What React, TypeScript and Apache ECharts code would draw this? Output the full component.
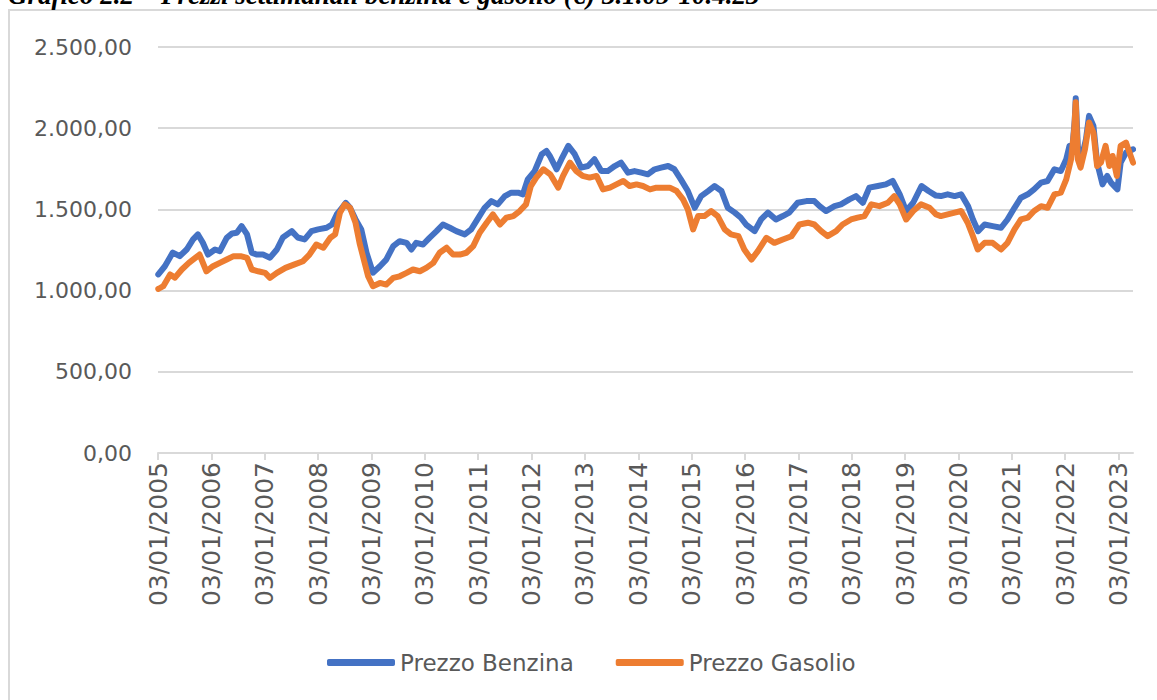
import React, { useEffect, useRef } from "react";
import * as echarts from "echarts";

const TITLE = "Grafico 2.2 – Prezzi settimanali benzina e gasolio (€) 3.1.05-10.4.23";
const SERIES_NAMES = ["Prezzo Benzina", "Prezzo Gasolio"];
const X_TICK_YEARS = [2005, 2006, 2007, 2008, 2009, 2010, 2011, 2012, 2013, 2014, 2015, 2016, 2017, 2018, 2019, 2020, 2021, 2022, 2023];
const X_TICK_LABELS = [
  "03/01/2005", "03/01/2006", "03/01/2007", "03/01/2008", "03/01/2009", "03/01/2010", "03/01/2011",
  "03/01/2012", "03/01/2013", "03/01/2014", "03/01/2015", "03/01/2016", "03/01/2017", "03/01/2018",
  "03/01/2019", "03/01/2020", "03/01/2021", "03/01/2022", "03/01/2023",
];
const Y_TICKS = [0, 500, 1000, 1500, 2000, 2500];
const Y_TICK_LABELS = ["0,00", "500,00", "1.000,00", "1.500,00", "2.000,00", "2.500,00"];

const benzinaDates = [
  "2005-01-03", "2005-02-17", "2005-04-12", "2005-05-30", "2005-07-16", "2005-08-29", "2005-10-01", "2005-11-03", "2005-12-09",
  "2006-01-26", "2006-02-28", "2006-04-16", "2006-05-23", "2006-06-24", "2006-07-27", "2006-09-02", "2006-10-04", "2006-11-06", "2006-12-20",
  "2007-02-06", "2007-03-25", "2007-05-05", "2007-07-05", "2007-08-15", "2007-10-01", "2007-11-17",
  "2008-01-01", "2008-02-28", "2008-04-05", "2008-05-08", "2008-06-13", "2008-07-09", "2008-08-07", "2008-09-13", "2008-10-23", "2008-11-28",
  "2009-01-11", "2009-02-28", "2009-04-12", "2009-05-30", "2009-07-13", "2009-08-29", "2009-10-01", "2009-11-03", "2009-12-20",
  "2010-02-02", "2010-03-22", "2010-05-05", "2010-06-21", "2010-08-04", "2010-10-01", "2010-11-14",
  "2011-01-03", "2011-02-14", "2011-04-01", "2011-05-15", "2011-07-02", "2011-08-15", "2011-10-01", "2011-11-03", "2011-12-06",
  "2012-01-22", "2012-03-11", "2012-04-12", "2012-05-05", "2012-06-21", "2012-07-24", "2012-09-09", "2012-10-23", "2012-12-06",
  "2013-01-22", "2013-03-07", "2013-04-23", "2013-06-06", "2013-07-24", "2013-09-05", "2013-10-23", "2013-12-06",
  "2014-01-22", "2014-03-07", "2014-04-23", "2014-06-06", "2014-07-24", "2014-09-05", "2014-10-19", "2014-12-06",
  "2015-01-22", "2015-03-07", "2015-04-23", "2015-06-06", "2015-07-24", "2015-09-05", "2015-10-23", "2015-12-02",
  "2016-01-08", "2016-03-07", "2016-04-20", "2016-06-06", "2016-07-31", "2016-09-16", "2016-10-30", "2016-12-27",
  "2017-02-25", "2017-04-20", "2017-05-26", "2017-07-09", "2017-09-05", "2017-10-19", "2017-12-16",
  "2018-01-30", "2018-03-18", "2018-05-01", "2018-06-28", "2018-08-22", "2018-10-08", "2018-11-25",
  "2019-01-08", "2019-02-25", "2019-04-23", "2019-06-10", "2019-07-31", "2019-09-02", "2019-10-19", "2019-12-06",
  "2020-01-19", "2020-03-07", "2020-04-09", "2020-05-15", "2020-06-28", "2020-08-22", "2020-10-19", "2020-12-02",
  "2021-01-19", "2021-03-04", "2021-04-20", "2021-06-02", "2021-07-20", "2021-09-02", "2021-10-19", "2021-12-02",
  "2022-01-08", "2022-01-30", "2022-02-21", "2022-03-07", "2022-03-14", "2022-03-28", "2022-04-16", "2022-05-23", "2022-06-13",
  "2022-07-13", "2022-08-07", "2022-09-13", "2022-10-15", "2022-11-10", "2022-12-24",
  "2023-01-15", "2023-02-21", "2023-04-10",
];
const benzinaValues = [
  1100, 1150, 1234, 1212, 1253, 1315, 1346, 1296, 1222,
  1253, 1243, 1325, 1352, 1356, 1397, 1346, 1234, 1222, 1222,
  1203, 1253, 1327, 1366, 1327, 1315, 1366,
  1377, 1387, 1407, 1469, 1510, 1540, 1510, 1440, 1377, 1233,
  1110, 1150, 1191, 1274, 1304, 1294, 1253, 1294, 1284,
  1325, 1366, 1407, 1387, 1366, 1346, 1377,
  1449, 1510, 1551, 1531, 1582, 1603, 1603, 1593, 1685,
  1736, 1840, 1860, 1829, 1747, 1809, 1891, 1840, 1757,
  1767, 1809, 1736, 1736, 1767, 1788, 1726, 1736,
  1726, 1716, 1747, 1757, 1767, 1747, 1685, 1613,
  1510, 1582, 1613, 1644, 1613, 1510, 1480, 1450,
  1407, 1366, 1438, 1480, 1438, 1459, 1480, 1541,
  1551, 1551, 1520, 1490, 1520, 1531, 1562,
  1582, 1541, 1634, 1644, 1654, 1675, 1593,
  1490, 1541, 1644, 1613, 1585, 1582, 1593, 1582,
  1593, 1520, 1438, 1366, 1407, 1397, 1387, 1438,
  1510, 1572, 1593, 1623, 1665, 1675, 1747, 1736,
  1809, 1891, 1900, 2050, 2185, 1891, 1788, 1932, 2076,
  2014, 1788, 1654, 1706, 1665, 1623,
  1788, 1850, 1870,
];

const gasolioDates = [
  "2005-01-03", "2005-01-15", "2005-02-06", "2005-03-25", "2005-04-27", "2005-06-13", "2005-07-31", "2005-10-12", "2005-11-28",
  "2006-01-12", "2006-02-28", "2006-04-16", "2006-06-02", "2006-07-20", "2006-09-02", "2006-10-04", "2006-11-17",
  "2007-01-04", "2007-02-06", "2007-03-25", "2007-05-23", "2007-07-20", "2007-09-20", "2007-11-03", "2007-12-20",
  "2008-02-06", "2008-03-25", "2008-04-27", "2008-05-30", "2008-07-02", "2008-08-07", "2008-09-13", "2008-10-12", "2008-12-09",
  "2009-01-11", "2009-02-28", "2009-04-12", "2009-05-30", "2009-07-13", "2009-08-29", "2009-10-12", "2009-11-28",
  "2010-01-11", "2010-02-28", "2010-04-12", "2010-05-30", "2010-07-13", "2010-08-29", "2010-10-12", "2010-11-28",
  "2011-01-11", "2011-02-28", "2011-04-12", "2011-05-30", "2011-07-13", "2011-08-29", "2011-10-12", "2011-11-24", "2011-12-27",
  "2012-02-02", "2012-03-22", "2012-05-08", "2012-07-02", "2012-08-04", "2012-09-20", "2012-11-03", "2012-12-16",
  "2013-02-02", "2013-03-22", "2013-05-05", "2013-06-21", "2013-08-04", "2013-09-20", "2013-11-03", "2013-12-20",
  "2014-02-02", "2014-03-22", "2014-05-05", "2014-06-21", "2014-08-04", "2014-09-20", "2014-11-03", "2014-12-06",
  "2015-01-11", "2015-02-14", "2015-03-29", "2015-05-15", "2015-06-28", "2015-08-15", "2015-09-27", "2015-11-17", "2015-12-27",
  "2016-02-14", "2016-03-29", "2016-05-26", "2016-07-20", "2016-09-16", "2016-11-14",
  "2017-01-08", "2017-03-07", "2017-04-20", "2017-06-06", "2017-07-20", "2017-09-16", "2017-10-30", "2017-12-27",
  "2018-02-10", "2018-03-29", "2018-05-15", "2018-07-09", "2018-09-05", "2018-10-19", "2018-11-25",
  "2019-01-08", "2019-02-25", "2019-04-20", "2019-06-17", "2019-07-31", "2019-09-02", "2019-10-19", "2019-12-06",
  "2020-01-19", "2020-03-04", "2020-04-09", "2020-05-12", "2020-06-28", "2020-08-22", "2020-10-19", "2020-12-02",
  "2021-01-19", "2021-03-04", "2021-04-20", "2021-06-02", "2021-07-20", "2021-09-02", "2021-10-19", "2021-12-02",
  "2022-01-08", "2022-02-10", "2022-03-04", "2022-03-14", "2022-03-28", "2022-04-16", "2022-05-16", "2022-06-13",
  "2022-07-13", "2022-08-07", "2022-09-02", "2022-10-04", "2022-10-30", "2022-11-21", "2022-12-20",
  "2023-01-15", "2023-02-21", "2023-04-10",
];
const gasolioValues = [
  1010, 1016, 1027, 1099, 1080, 1130, 1171, 1222, 1119,
  1150, 1171, 1191, 1212, 1212, 1202, 1130, 1119,
  1109, 1078, 1109, 1140, 1160, 1181, 1222, 1284,
  1264, 1325, 1346, 1480, 1531, 1510, 1420, 1290, 1088,
  1027, 1047, 1037, 1078, 1088, 1109, 1130, 1119,
  1140, 1171, 1233, 1264, 1222, 1222, 1233, 1274,
  1356, 1418, 1469, 1407, 1449, 1459, 1490, 1531, 1644,
  1696, 1747, 1716, 1634, 1706, 1788, 1736, 1706,
  1696, 1706, 1623, 1634, 1654, 1675, 1644, 1654,
  1644, 1623, 1634, 1634, 1634, 1613, 1562, 1500,
  1377, 1459, 1459, 1490, 1459, 1377, 1346, 1335, 1253,
  1191, 1243, 1325, 1294, 1315, 1335,
  1407, 1418, 1407, 1366, 1335, 1366, 1407, 1438,
  1449, 1459, 1531, 1520, 1541, 1582, 1531,
  1438, 1490, 1531, 1510, 1469, 1459, 1469, 1480,
  1490, 1418, 1335, 1253, 1294, 1294, 1253, 1294,
  1377, 1438, 1449, 1490, 1520, 1510, 1593, 1603,
  1685, 1809, 1994, 2160, 1809, 1757, 1870, 2035,
  1973, 1767, 1788, 1891, 1767, 1829, 1706,
  1891, 1911, 1788,
];

const X_MIN = 2005;
const X_MAX = 2023.27;

function toYear(s: string): number {
  const [y, m, d] = s.split("-").map(Number);
  const start = Date.UTC(y, 0, 1);
  const len = Date.UTC(y + 1, 0, 1) - start;
  return y + (Date.UTC(y, m - 1, d) - start) / len;
}

const TEXT_COLOR = "#595959";
const GRID_COLOR = "#d9d9d9";
const FONT = "'DejaVu Sans', sans-serif";

export default function App() {
  const ref = useRef<HTMLDivElement>(null);

  useEffect(() => {
    if (!ref.current) return;
    const chart = echarts.init(ref.current, undefined, { renderer: "svg" });
    const bData = benzinaDates.map((d, i) => [toYear(d), benzinaValues[i]]);
    const gData = gasolioDates.map((d, i) => [toYear(d), gasolioValues[i]]);

    chart.setOption({
      animation: false,
      backgroundColor: "#ffffff",
      graphic: [
        {
          type: "rect",
          z: -10,
          shape: { x: 9, y: 10, width: 1175, height: 720 },
          style: { fill: "none", stroke: GRID_COLOR, lineWidth: 2 },
          silent: true,
        },
        {
          type: "text",
          x: 8,
          y: -5,
          style: {
            text: TITLE,
            font: "italic bold 27px 'Liberation Serif', serif",
            fill: "#000000",
            verticalAlign: "middle",
            align: "left",
          },
          silent: true,
        },
      ],
      grid: { left: 158, right: 24, top: 47, bottom: 247, containLabel: false },
      legend: {
        data: SERIES_NAMES,
        left: 322,
        top: 646,
        icon: "roundRect",
        itemWidth: 68,
        itemHeight: 7,
        itemGap: 42,
        textStyle: { color: TEXT_COLOR, fontFamily: FONT, fontSize: 23 },
      },
      xAxis: {
        type: "value",
        min: X_MIN,
        max: X_MAX,
        axisLine: { show: true, lineStyle: { color: GRID_COLOR, width: 2 } },
        axisTick: {
          show: true,
          customValues: X_TICK_YEARS,
          length: 7,
          lineStyle: { color: GRID_COLOR, width: 2 },
        },
        splitLine: { show: false },
        axisLabel: {
          customValues: X_TICK_YEARS,
          rotate: 90,
          margin: 9,
          color: TEXT_COLOR,
          fontFamily: FONT,
          fontSize: 25,
          formatter: (v: number) => {
            const i = X_TICK_YEARS.indexOf(Math.round(v));
            return i >= 0 ? X_TICK_LABELS[i] : "";
          },
        },
      },
      yAxis: {
        type: "value",
        min: 0,
        max: 2500,
        interval: 500,
        axisLine: { show: false },
        axisTick: { show: false },
        splitLine: { show: true, lineStyle: { color: GRID_COLOR, width: 2 } },
        axisLabel: {
          margin: 26,
          color: TEXT_COLOR,
          fontFamily: FONT,
          fontSize: 22,
          formatter: (v: number) => {
            const i = Y_TICKS.indexOf(v);
            return i >= 0 ? Y_TICK_LABELS[i] : "";
          },
        },
      },
      series: [
        {
          name: SERIES_NAMES[0],
          type: "line",
          data: bData,
          showSymbol: false,
          color: "#4472C4",
          lineStyle: { width: 6, color: "#4472C4", cap: "round", join: "round" },
          z: 2,
        },
        {
          name: SERIES_NAMES[1],
          type: "line",
          data: gData,
          showSymbol: false,
          color: "#ED7D31",
          lineStyle: { width: 6, color: "#ED7D31", cap: "round", join: "round" },
          z: 3,
        },
      ],
    });
    return () => chart.dispose();
  }, []);

  return (
    <div
      ref={ref}
      style={{ position: "fixed", left: 0, top: 0, width: 1157, height: 700, background: "#fff" }}
    />
  );
}
